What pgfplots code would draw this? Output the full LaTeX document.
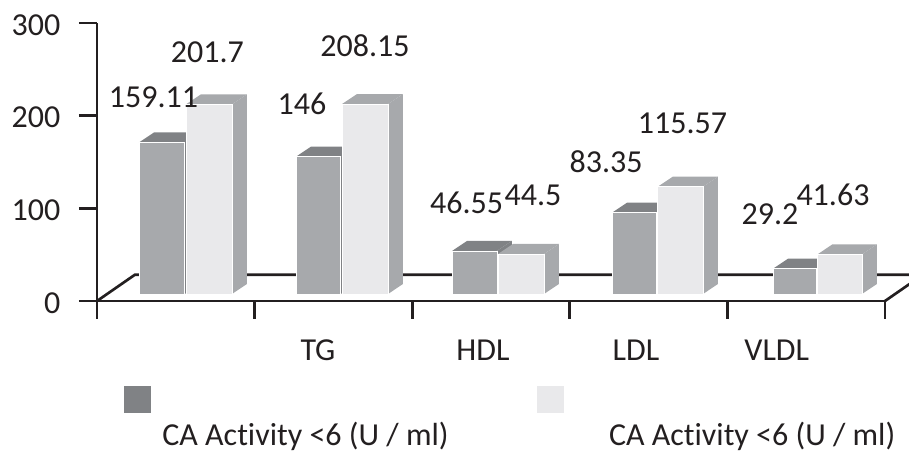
\documentclass[border=0pt]{standalone}
\usepackage{fontspec}
\setmainfont{Carlito}[Ligatures=NoCommon]
\usepackage{pgfplots}
\pgfplotsset{compat=1.18}
\definecolor{ink}{HTML}{231F20}
\definecolor{barmid}{HTML}{A7A9AC}
\definecolor{bardark}{HTML}{808285}
\definecolor{barlight}{HTML}{E9E9EB}
\newcommand{\chartfont}{\fontsize{24}{29}\selectfont}

% one px of the reference is 0.75pt here
% #1 left, #2 right, #3 height read off the front face, #4 front, #5 top, #6 side
\newcommand{\barbox}[6]{%
  \pgfmathsetmacro\xa{#1}
  \pgfmathsetmacro\xb{#2}
  \pgfmathsetmacro\xc{#2+0.095}
  \pgfmathsetmacro\xd{#1+0.095}
  \pgfmathsetmacro\ya{7.55}
  \pgfmathsetmacro\yb{7.55+#3}
  \pgfmathsetmacro\yc{\yb+10.8}
  \pgfmathsetmacro\yd{\ya+10.8}
  \addplot[fill=#6,draw=none,forget plot] coordinates {(\xb,\ya) (\xc,\yd) (\xc,\yc) (\xb,\yb)} -- cycle;
  \addplot[fill=#5,draw=none,forget plot] coordinates {(\xa,\yb) (\xd,\yc) (\xc,\yc) (\xb,\yb)} -- cycle;
  \addplot[fill=#4,draw=white,line width=0.5pt,forget plot] coordinates {(\xa,\ya) (\xb,\ya) (\xb,\yb) (\xa,\yb)} -- cycle;
}

\begin{document}
\begin{tikzpicture}
\path[use as bounding box] (-72.75pt,-113.25pt) rectangle (609pt,225.75pt);
\begin{axis}[
  scale only axis,
  width=591pt,
  height=208.5pt,
  xmin=0, xmax=5,
  ymin=0, ymax=300,
  clip=false,
  axis lines=left,
  axis line style={-,ink,line width=2pt},
  tick style={ink,line width=2pt},
  tick align=outside,
  major tick length=13.5pt,
  ytick={0,100,200,300},
  xtick={0,1,2,3,4,5},
  xticklabels={},
  extra x ticks={1.402,2.449,3.42,4.313},
  extra x tick labels={TG,HDL,LDL,VLDL},
  extra x tick style={major tick length=0pt,tick style={draw=none}},
  x tick label style={font=\chartfont,text=ink,anchor=north,yshift=-25.5pt},
  y tick label style={font=\chartfont,text=ink,xshift=-10.5pt,yshift=-1.5pt},
  /pgf/number format/assume math mode=true,
]
% floor of the 3D box
\addplot[ink,line width=2pt,forget plot] coordinates {(0,0) (0.241,28.4) (5.241,28.4) (5,0)};

\barbox{0.2665}{0.557}{163.5}{barmid}{bardark}{bardark}
\barbox{0.5647}{0.8566}{204.7}{barlight}{barmid}{barmid}
\barbox{1.2627}{1.547}{148.2}{barmid}{bardark}{bardark}
\barbox{1.5546}{1.8465}{205.0}{barlight}{barmid}{barmid}
\barbox{2.2525}{2.537}{46.4}{barmid}{bardark}{bardark}
\barbox{2.5444}{2.8363}{43.2}{barlight}{barmid}{barmid}
\barbox{3.2678}{3.551}{87.7}{barmid}{bardark}{bardark}
\barbox{3.5584}{3.8452}{115.8}{barlight}{barmid}{barmid}
\barbox{4.2893}{4.564}{27.3}{barmid}{bardark}{bardark}
\barbox{4.5717}{4.854}{42.8}{barlight}{barmid}{barmid}

\begin{scope}[every node/.style={font=\chartfont,text=ink,inner sep=0pt}]
\node at (axis cs:0.358,220) {159.11};
\node at (axis cs:0.70,268) {201.7};
\node at (axis cs:1.301,212.6) {146};
\node at (axis cs:1.70,276) {208.15};
\node at (axis cs:2.345,106) {46.55};
\node at (axis cs:2.767,114.4) {44.5};
\node at (axis cs:3.23,150.6) {83.35};
\node at (axis cs:3.715,192) {115.57};
\node at (axis cs:4.27,94) {29.2};
\node at (axis cs:4.67,115) {41.63};
\node[anchor=base] at (axis cs:1.323,-156) {CA Activity <6 (U / ml)};
\node[anchor=base] at (axis cs:4.157,-156) {CA Activity <6 (U / ml)};
\end{scope}
\fill[bardark] (axis cs:0.171,-120.9) rectangle (axis cs:0.343,-91.7);
\fill[barlight] (axis cs:2.792,-120.9) rectangle (axis cs:2.964,-91.7);
\end{axis}
\end{tikzpicture}
\end{document}
